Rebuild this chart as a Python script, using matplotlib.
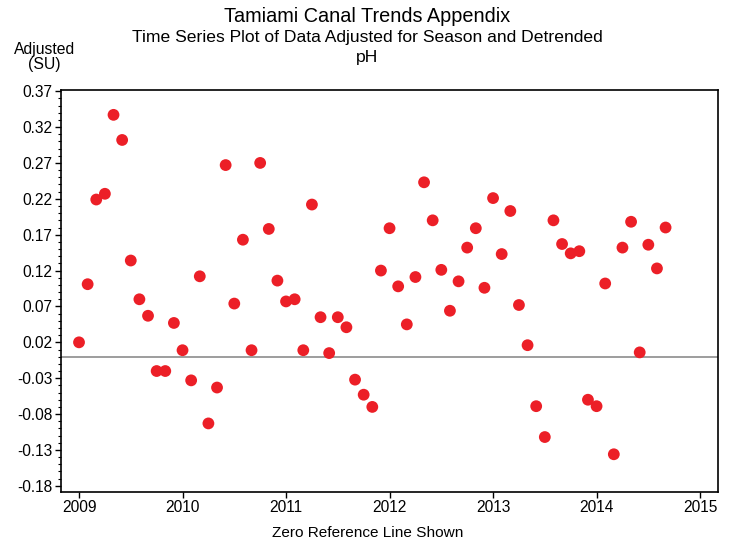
import numpy as np
import pandas as pd
import matplotlib
matplotlib.use('Agg')
import matplotlib.pyplot as plt
from matplotlib.ticker import FixedLocator

plt.rcParams['font.family'] = ['Liberation Sans', 'DejaVu Sans']

# monthly samples, Jan 2009 .. Sep 2014
dates = pd.date_range('2009-01-01', periods=69, freq='MS')
adjusted = [0.020, 0.101, 0.219, 0.227, 0.337, 0.302, 0.134, 0.080, 0.057, -0.020,
            -0.020, 0.047, 0.009, -0.033, 0.112, -0.093, -0.043, 0.267, 0.074, 0.163,
            0.009, 0.270, 0.178, 0.106, 0.077, 0.080, 0.009, 0.212, 0.055, 0.005,
            0.055, 0.041, -0.032, -0.053, -0.070, 0.120, 0.179, 0.098, 0.045, 0.111,
            0.243, 0.190, 0.121, 0.064, 0.105, 0.152, 0.179, 0.096, 0.221, 0.143,
            0.203, 0.072, 0.016, -0.069, -0.112, 0.190, 0.157, 0.144, 0.147, -0.060,
            -0.069, 0.102, -0.136, 0.152, 0.188, 0.006, 0.156, 0.123, 0.180]
year_ticks = [2009, 2010, 2011, 2012, 2013, 2014, 2015]
y_ticks = [0.37, 0.32, 0.27, 0.22, 0.17, 0.12, 0.07, 0.02, -0.03, -0.08, -0.13, -0.18]

xdec = dates.year + (dates.month - 1) / 12.0

fig = plt.figure(figsize=(7.35, 5.46), dpi=100)
ax = fig.add_axes([0.083, 0.099, 0.894, 0.736])

ax.axhline(0, color='#8c8c8c', lw=1.2, zorder=1)
ax.scatter(xdec, adjusted, s=72, color='#ec1f27', edgecolors='none', zorder=3)

ax.set_xlim(2008.826, 2015.174)
ax.set_ylim(-0.1885, 0.3715)
ax.xaxis.set_major_locator(FixedLocator(year_ticks))
ax.set_xticklabels([str(y) for y in year_ticks])
ax.yaxis.set_major_locator(FixedLocator(y_ticks))
ax.set_yticklabels(['%.2f' % v for v in y_ticks])
ax.yaxis.set_minor_locator(FixedLocator(np.round(np.arange(-0.18, 0.371, 0.01), 2)))

ax.tick_params(axis='both', which='major', direction='out', length=4, width=1,
               labelsize=11.2, colors='black', pad=2)
ax.tick_params(axis='y', which='minor', direction='out', length=2, width=0.8)
for s in ax.spines.values():
    s.set_linewidth(1.2)

fig.text(0.5, 0.969, 'Tamiami Canal Trends Appendix', ha='center', va='center', fontsize=14.3)
fig.text(0.5, 0.932, 'Time Series Plot of Data Adjusted for Season and Detrended',
         ha='center', va='center', fontsize=12.6)
fig.text(0.5, 0.895, 'pH', ha='center', va='center', fontsize=12.6)
fig.text(0.06, 0.896, 'Adjusted\n(SU)', ha='center', va='center', fontsize=11.3,
         linespacing=1.0)
fig.text(0.5, 0.024, 'Zero Reference Line Shown', ha='center', va='center', fontsize=11.1)

plt.savefig('out.png', dpi=100)
